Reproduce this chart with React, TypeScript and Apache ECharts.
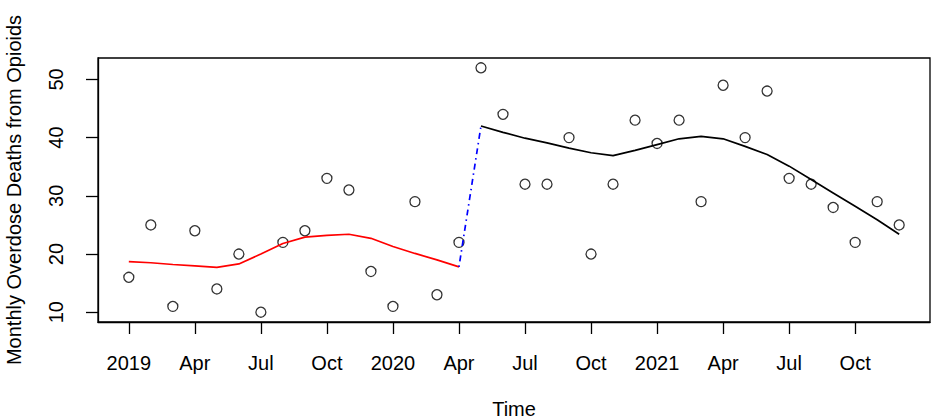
import React, { useEffect, useRef } from "react";
import * as echarts from "echarts";

// Month index 0 = Jan 2019 ... 35 = Dec 2021
const monthlyDeaths = [
  16, 25, 11, 24, 14, 20, 10, 22, 24, 33, 31, 17,
  11, 29, 13, 22, 52, 44, 32, 32, 40, 20, 32, 43,
  39, 43, 29, 49, 40, 48, 33, 32, 28, 22, 29, 25,
];

// Pre-period smooth trend (Jan 2019 - Apr 2020)
const preTrend = [
  18.7, 18.5, 18.2, 17.95, 17.7, 18.3, 20.0, 21.8, 22.9, 23.2, 23.4, 22.7,
  21.3, 20.1, 19.0, 17.8,
];
const preStart = 0;

// Post-period smooth trend (May 2020 - Dec 2021)
const postTrend = [
  42.0, 40.9, 39.9, 39.1, 38.2, 37.4, 36.9, 37.8, 38.8, 39.8, 40.2, 39.8,
  38.5, 37.1, 35.1, 32.8, 30.5, 28.2, 25.9, 23.4,
];
const postStart = 16;

const xTickValues = [0, 3, 6, 9, 12, 15, 18, 21, 24, 27, 30, 33];
const xTickLabels = ["2019", "Apr", "Jul", "Oct", "2020", "Apr", "Jul", "Oct", "2021", "Apr", "Jul", "Oct"];
const yTickValues = [10, 20, 30, 40, 50];

const FONT = "'Liberation Sans', Arial, sans-serif";

export default function App() {
  const ref = useRef<HTMLDivElement>(null);

  useEffect(() => {
    document.body.style.margin = "0";
    if (!ref.current) return;
    const chart = echarts.init(ref.current, undefined, { renderer: "svg" });

    const scatterData = monthlyDeaths.map((v, i) => [i, v]);
    const preData = preTrend.map((v, i) => [preStart + i, v]);
    const postData = postTrend.map((v, i) => [postStart + i, v]);
    const bridgeData = [preData[preData.length - 1], postData[0]];

    const option: any = {
      animation: false,
      backgroundColor: "#ffffff",
      grid: {
        left: 98,
        right: 5,
        top: 58,
        bottom: 98,
        containLabel: false,
        outerBoundsMode: "none",
        show: true,
        borderColor: "#000",
        borderWidth: 1.3,
        backgroundColor: "transparent",
      },
      xAxis: {
        type: "value",
        min: -1.4,
        max: 36.4,
        name: "Time",
        nameLocation: "middle",
        nameGap: 77,
        nameTextStyle: { fontSize: 20, color: "#000", fontFamily: FONT },
        axisLine: { show: true, onZero: false, lineStyle: { color: "#000", width: 1.3 } },
        axisTick: {
          show: true,
          length: 12,
          customValues: xTickValues,
          lineStyle: { color: "#000", width: 1.3 },
        },
        axisLabel: {
          show: true,
          customValues: xTickValues,
          margin: 31,
          fontSize: 20,
          color: "#000",
          fontFamily: FONT,
          formatter: (v: number) => {
            const idx = xTickValues.indexOf(Math.round(v));
            return idx >= 0 ? xTickLabels[idx] : "";
          },
        },
        splitLine: { show: false },
      },
      yAxis: {
        type: "value",
        min: 8.32,
        max: 53.68,
        name: "Monthly Overdose Deaths from Opioids",
        nameLocation: "middle",
        nameGap: 74,
        nameTextStyle: { fontSize: 20, color: "#000", fontFamily: FONT },
        axisLine: { show: true, onZero: false, lineStyle: { color: "#000", width: 1.3 } },
        axisTick: {
          show: true,
          length: 12,
          customValues: yTickValues,
          lineStyle: { color: "#000", width: 1.3 },
        },
        axisLabel: {
          show: true,
          customValues: yTickValues,
          rotate: 90,
          margin: 32,
          fontSize: 20,
          color: "#000",
          fontFamily: FONT,
        },
        splitLine: { show: false },
      },
      series: [
        {
          type: "scatter",
          data: scatterData,
          symbol: "circle",
          symbolSize: 10,
          itemStyle: { color: "transparent", borderColor: "#000", borderWidth: 1.3 },
          z: 2,
        },
        {
          type: "line",
          data: preData,
          showSymbol: false,
          symbol: "none",
          lineStyle: { color: "#ff0000", width: 1.7 },
          z: 3,
        },
        {
          type: "line",
          data: bridgeData,
          showSymbol: false,
          symbol: "none",
          lineStyle: { color: "#0000ff", width: 1.7, type: [1.5, 4, 6, 4] },
          z: 3,
        },
        {
          type: "line",
          data: postData,
          showSymbol: false,
          symbol: "none",
          lineStyle: { color: "#000000", width: 1.7 },
          z: 3,
        },
      ],
    };

    chart.setOption(option);
    return () => chart.dispose();
  }, []);

  return (
    <div
      ref={ref}
      style={{ position: "fixed", left: 0, top: 0, width: 935, height: 420, background: "#fff" }}
    />
  );
}
